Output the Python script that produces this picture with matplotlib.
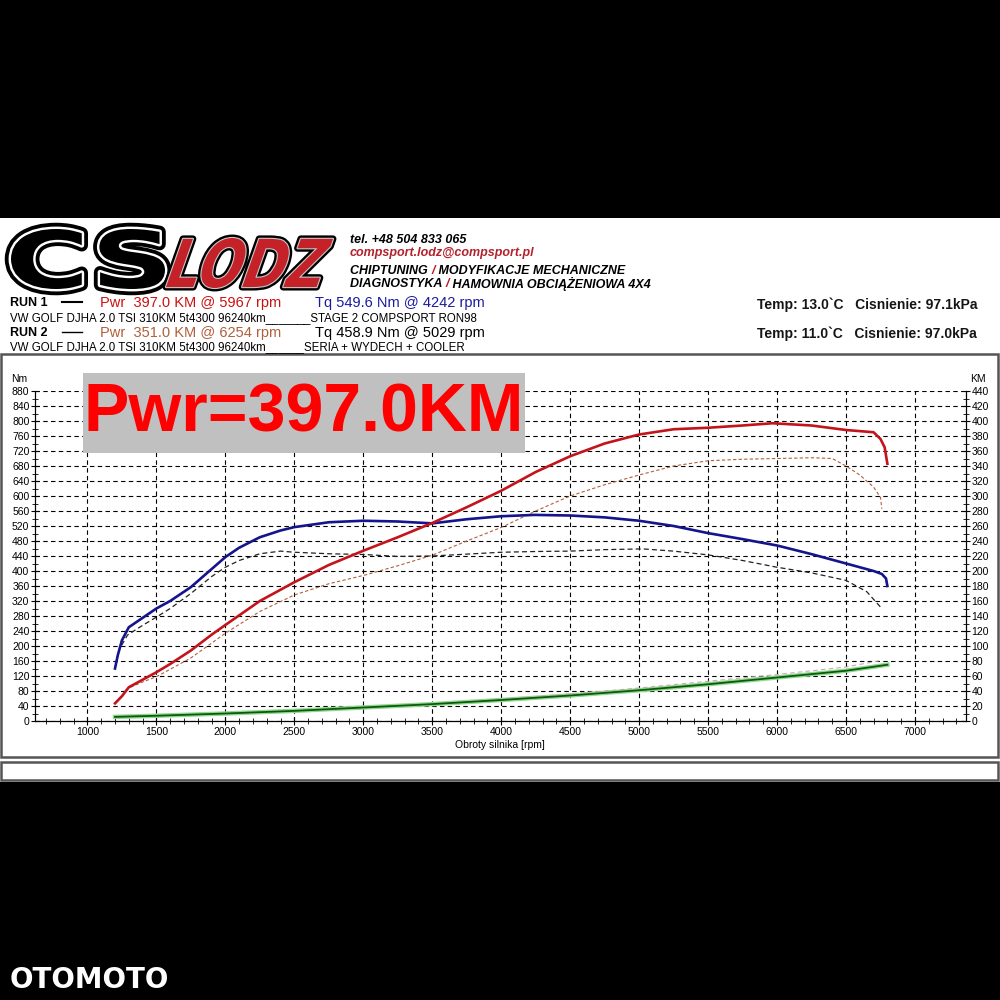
"""Wykres z hamowni CS LODZ - VW Golf 2.0 TSI, dwa przejazdy."""

import matplotlib

matplotlib.use("Agg")
import matplotlib.pyplot as plt
from matplotlib.font_manager import FontProperties
from matplotlib.patches import PathPatch, Rectangle
from matplotlib.textpath import TextPath
from matplotlib.transforms import Affine2D
from matplotlib.ticker import MultipleLocator

# --- dane -----------------------------------------------------------------
run1_tq_rpm = [1200, 1220, 1250, 1300, 1400, 1500, 1600, 1750, 1900, 2000, 2100,
               2250, 2400, 2500, 2750, 3000, 3250, 3500, 3750, 4000, 4242, 4500,
               4750, 5000, 5250, 5500, 5750, 6000, 6250, 6500, 6700, 6760, 6790, 6800]
run1_tq = [140, 175, 215, 250, 275, 300, 320, 357, 405, 437, 462,
           490, 508, 517, 530, 534, 532, 527, 538, 546, 549.6, 548,
           543, 534, 520, 501, 485, 468, 445, 420, 400, 392, 380, 360]

run1_pwr_rpm = [1200, 1250, 1300, 1400, 1500, 1600, 1750, 1900, 2000, 2250, 2500,
                2750, 3000, 3250, 3500, 3750, 4000, 4250, 4500, 4750, 5000, 5250,
                5500, 5750, 5967, 6250, 6500, 6700, 6750, 6780, 6800]
run1_pwr = [23.5, 33, 45, 55, 65, 76, 94, 115, 128, 160, 185,
            208, 227, 245, 264, 285, 307, 332, 353, 370, 382, 389,
            391, 394, 397, 394, 388, 385, 376, 365, 343]

run2_tq_rpm = [1200, 1230, 1290, 1400, 1500, 1600, 1750, 1900, 2000, 2100, 2250,
               2400, 2500, 2750, 3000, 3250, 3500, 3750, 4000, 4250, 4500, 4750,
               5029, 5250, 5500, 5750, 6000, 6250, 6500, 6650, 6750, 6760]
run2_tq = [140, 190, 229, 255, 277, 300, 340, 385, 410, 428, 446,
           453, 450, 446, 444, 439, 440, 445, 450, 452, 453, 457,
           458.9, 453, 443, 428, 410, 395, 375, 345, 304, 300]

run2_pwr_rpm = [1200, 1250, 1300, 1400, 1500, 1750, 2000, 2250, 2500, 2750, 3000,
                3250, 3500, 3750, 4000, 4250, 4500, 4750, 5000, 5250, 5500, 5750,
                6000, 6254, 6400, 6500, 6600, 6700, 6750, 6760]
run2_pwr = [24, 34, 44, 52, 59, 84, 117, 146, 168, 183, 194,
            207, 221, 240, 258, 280, 300, 315, 328, 340, 347, 349,
            350, 351, 350, 340, 328, 312, 298, 283]

loss_rpm1 = [1200, 1500, 2000, 2500, 3000, 3500, 4000, 4500, 5000, 5500, 6000, 6500, 6800]
loss1 = [5.5, 7, 10, 13.5, 18, 22.5, 28, 34, 41, 49, 58, 67, 75]
loss_rpm2 = [1200, 1500, 2000, 2500, 3000, 3500, 4000, 4500, 5000, 5500, 6000, 6500, 6760]
loss2 = [5.5, 7, 10, 13.5, 18, 23, 29, 36, 44, 53, 62, 72, 81]

nm_ticks = list(range(0, 881, 40))
km_ticks = list(range(0, 441, 20))
rpm_ticks = list(range(1000, 7001, 500))

RED = "#c3141c"
BLUE = "#14148c"
BROWN = "#b0603c"
NARROW = ["Liberation Sans Narrow", "Liberation Sans", "DejaVu Sans"]
ARIAL = ["Liberation Sans", "DejaVu Sans"]


def fx(x):
    return x / 1000


def fy(y):
    return 1 - y / 1000


def text_px(fig, x, y, s, **kw):
    kw.setdefault("family", ARIAL)
    kw.setdefault("va", "center")
    return fig.text(fx(x), fy(y), s, **kw)


def logo_path(fig, text, prop, box, layers, skew=0.0, zorder=5):
    # tekst jako ścieżka, dopasowany do prostokąta w pikselach
    x0, y0, x1, y1 = box
    tp = TextPath((0, 0), text, size=1, prop=prop)
    tp = Affine2D().skew_deg(skew, 0).transform_path(tp)
    ext = tp.get_extents()
    tr = (Affine2D().translate(-ext.x0, -ext.y0)
          .scale((x1 - x0) / ext.width, (y1 - y0) / ext.height)
          .translate(x0, 1000 - y1))
    for face, edge, lw in layers:
        fig.add_artist(PathPatch(tp, facecolor=face, edgecolor=edge, linewidth=lw,
                                 transform=tr, zorder=zorder, joinstyle="round"))


def colored_line(fig, x, y, pieces, **kw):
    renderer = fig.canvas.get_renderer()
    for s, color in pieces:
        t = text_px(fig, x, y, s, color=color, **kw)
        x += t.get_window_extent(renderer).width


fig = plt.figure(figsize=(10, 10), dpi=100, facecolor="black")

# białe tło karty i ramki
fig.add_artist(Rectangle((0, fy(782)), 1, (782 - 218) / 1000, transform=fig.transFigure,
                         facecolor="white", edgecolor="none", zorder=-10))
fig.add_artist(Rectangle((fx(1), fy(757)), 0.997, (757 - 354) / 1000,
                         transform=fig.transFigure, facecolor="white",
                         edgecolor="#555555", linewidth=1.8, zorder=-9))
fig.add_artist(Rectangle((fx(1), fy(780)), 0.997, (780 - 762) / 1000,
                         transform=fig.transFigure, facecolor="white",
                         edgecolor="#555555", linewidth=1.8, zorder=-9))

# logo
bold = FontProperties(family="DejaVu Sans", weight="bold")
logo_path(fig, "CS", bold, (11, 229, 165, 289),
          [("black", "black", 9), ("none", "white", 3.5), ("black", "none", 0)])
logo_path(fig, "LODZ", bold, (166, 238, 333, 288),
          [("black", "black", 5), ("none", "#c8c8c8", 1.6), ("#c42128", "none", 0)],
          skew=24)

text_px(fig, 350, 240, "tel. +48 504 833 065", fontsize=9, weight="bold",
        style="italic", family=NARROW)
text_px(fig, 350, 253, "compsport.lodz@compsport.pl", fontsize=9, weight="bold",
        style="italic", color="#b3222c", family=NARROW)
colored_line(fig, 350, 271, [("CHIPTUNING ", "black"), ("/", "#c3141c"),
                             (" MODYFIKACJE MECHANICZNE", "black")],
             fontsize=9, weight="bold", style="italic", family=NARROW)
colored_line(fig, 350, 284, [("DIAGNOSTYKA ", "black"), ("/", "#c3141c"),
                             (" HAMOWNIA OBCIĄŻENIOWA 4X4", "black")],
             fontsize=9, weight="bold", style="italic", family=NARROW)

# opis przejazdów
text_px(fig, 10, 303, "RUN 1", fontsize=9, weight="bold")
text_px(fig, 100, 303, "Pwr  397.0 KM @ 5967 rpm", fontsize=10.5, color="#cc1111")
text_px(fig, 315, 303, "Tq 549.6 Nm @ 4242 rpm", fontsize=10.5, color="#1a1aa0")
text_px(fig, 10, 318, "VW GOLF DJHA 2.0 TSI 310KM 5t4300 96240km_______STAGE 2 COMPSPORT RON98",
        fontsize=8.3)
text_px(fig, 10, 333, "RUN 2", fontsize=9, weight="bold")
text_px(fig, 100, 333, "Pwr  351.0 KM @ 6254 rpm", fontsize=10.5, color=BROWN)
text_px(fig, 315, 333, "Tq 458.9 Nm @ 5029 rpm", fontsize=10.5, color="black")
text_px(fig, 10, 347, "VW GOLF DJHA 2.0 TSI 310KM 5t4300 96240km______SERIA + WYDECH + COOLER",
        fontsize=8.3)
fig.add_artist(plt.Line2D([fx(62), fx(82)], [fy(302), fy(302)], color="black", lw=1.5,
                          transform=fig.transFigure))
fig.add_artist(plt.Line2D([fx(62), fx(82)], [fy(332), fy(332)], color="black", lw=1.0,
                          transform=fig.transFigure))
text_px(fig, 757, 305, "Temp: 13.0`C   Cisnienie: 97.1kPa", fontsize=10, weight="bold",
        color="#151515")
text_px(fig, 757, 334, "Temp: 11.0`C   Cisnienie: 97.0kPa", fontsize=10, weight="bold",
        color="#151515")

# wykres
ax = fig.add_axes([0.035, fy(721), 0.931, (721 - 391) / 1000])
ax.set_facecolor("white")
ax.set_xlim(620, 7370)
ax.set_ylim(0, 880)
ax2 = ax.twinx()
ax2.set_ylim(0, 440)

for a in (ax, ax2):
    a.spines["top"].set_visible(False)
    for sp in ("left", "right", "bottom"):
        a.spines[sp].set_linewidth(0.8)

ax.set_xticks(rpm_ticks)
ax.xaxis.set_minor_locator(MultipleLocator(100))
ax.set_yticks(nm_ticks)
ax.yaxis.set_minor_locator(MultipleLocator(20))
ax2.set_yticks(km_ticks)
ax2.yaxis.set_minor_locator(MultipleLocator(10))
for a in (ax, ax2):
    a.tick_params(which="major", direction="inout", length=6, width=0.8,
                  labelsize=7.5, pad=1)
    a.tick_params(which="minor", direction="inout", length=4, width=0.6)
for lab in ax.get_xticklabels() + ax.get_yticklabels() + ax2.get_yticklabels():
    lab.set_family(ARIAL)

ax.grid(True, which="major", color="black", linewidth=0.8, linestyle=(0, (4, 3)))

ax.plot(loss_rpm1, loss1, color="#90d890", lw=3.2, zorder=3, transform=ax2.transData)
ax.plot(loss_rpm1, loss1, color="#0a5a0a", lw=1.3, zorder=4, transform=ax2.transData)
ax.plot(loss_rpm2, loss2, color="#c8a8b0", lw=0.8, ls=(0, (4, 3)), zorder=3,
        transform=ax2.transData)
ax.plot(run2_tq_rpm, run2_tq, color="#222222", lw=0.9, ls=(0, (4, 2.5)), zorder=4)
ax.plot(run2_pwr_rpm, run2_pwr, color=BROWN, lw=0.8, ls=(0, (3, 2)), zorder=4,
        transform=ax2.transData)
ax.plot(run1_tq_rpm, run1_tq, color=BLUE, lw=1.9, zorder=5)
ax.plot(run1_pwr_rpm, run1_pwr, color=RED, lw=1.9, zorder=5, transform=ax2.transData)

text_px(fig, 11, 379, "Nm", fontsize=7.5)
text_px(fig, 970, 379, "KM", fontsize=7.5)
text_px(fig, 500, 745, "Obroty silnika [rpm]", fontsize=7.5, ha="center", family=NARROW)

# etykieta mocy maksymalnej
fig.add_artist(Rectangle((fx(83), fy(453)), (525 - 83) / 1000, (453 - 373) / 1000,
                         transform=fig.transFigure, facecolor="#c0c0c0",
                         edgecolor="none", zorder=2))
text_px(fig, 304, 414, "Pwr=397.0KM", fontsize=49, weight="bold", color="#ff0000",
        ha="center", zorder=3)

text_px(fig, 10, 980, "OTOMOTO", fontsize=20, weight="bold", color="white",
        family=["DejaVu Sans"])

fig.savefig("out.png", dpi=100, facecolor="black")
